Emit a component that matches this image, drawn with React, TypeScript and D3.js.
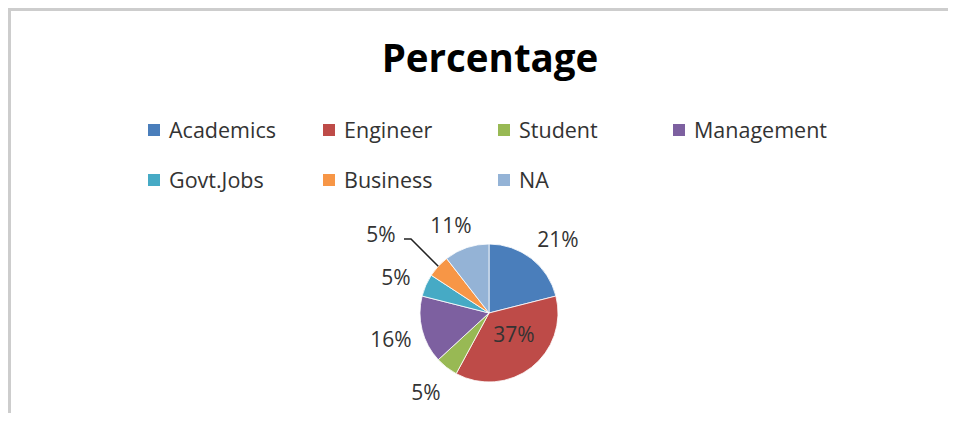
import React, {useEffect, useRef} from "react";
import * as d3 from "d3";

// respondents per category (shown as rounded percentages)
const categories = ["Academics", "Engineer", "Student", "Management", "Govt.Jobs", "Business", "NA"];
const counts = [4, 7, 1, 3, 1, 1, 2];
const colors = ["#4a7ebb", "#be4b48", "#98b954", "#7d60a0", "#46aac5", "#f79646", "#94b3d6"];

const W = 956;
const H = 421;
const font = "'Open Sans', 'Noto Sans', sans-serif";

function App() {
  const ref = useRef<SVGSVGElement>(null);

  useEffect(() => {
    const svg = d3.select(ref.current);
    svg.selectAll("*").remove();

    // frame
    svg.append("path")
      .attr("d", `M9.5,${H} V9.5 H${W}`)
      .attr("fill", "none")
      .attr("stroke", "#cdcdcd")
      .attr("stroke-width", 3);

    svg.append("text")
      .attr("x", 490).attr("y", 72)
      .attr("text-anchor", "middle")
      .attr("font-family", font)
      .attr("font-weight", "bold")
      .attr("font-size", 38.5)
      .attr("fill", "#000")
      .text("Percentage");

    // legend
    const colX = d3.scalePoint<number>().domain([0, 1, 2, 3]).range([148, 673]);
    const rowY = d3.scalePoint<number>().domain([0, 1]).range([130, 180]);
    const leg = svg.append("g").selectAll("g")
      .data(categories)
      .join("g")
      .attr("transform", (d, i) => `translate(${colX(i % 4)},${rowY(Math.floor(i / 4))})`);
    leg.append("rect")
      .attr("x", 0).attr("y", -6).attr("width", 12).attr("height", 12)
      .attr("fill", (d, i) => colors[i]);
    leg.append("text")
      .attr("x", 21).attr("y", 8)
      .attr("font-family", font)
      .attr("font-size", 21.5)
      .attr("fill", "#333")
      .text(d => d);

    // pie
    const cx = 489, cy = 313, r = 69;
    const total = d3.sum(counts);
    const pie = d3.pie<number>().sort(null).value(d => d)(counts);
    const arc = d3.arc<d3.PieArcDatum<number>>().innerRadius(0).outerRadius(r);
    const g = svg.append("g").attr("transform", `translate(${cx},${cy})`);
    g.selectAll("path")
      .data(pie)
      .join("path")
      .attr("d", arc)
      .attr("fill", (d, i) => colors[i])
      .attr("stroke", "#fff")
      .attr("stroke-width", 0.8);

    // label positions (offset from center, in px)
    const labelPos: [number, number][] = [
      [69, -73], [25, 22], [-63, 80], [-98, 27], [-93, -35], [-108, -78], [-38, -87],
    ];
    g.selectAll("text")
      .data(pie)
      .join("text")
      .attr("x", (d, i) => labelPos[i][0])
      .attr("y", (d, i) => labelPos[i][1])
      .attr("dy", "0.35em")
      .attr("text-anchor", "middle")
      .attr("font-family", font)
      .attr("font-size", 21)
      .attr("fill", "#333")
      .text(d => `${Math.round(d.value / total * 100)}%`);

    // leader line for the Business slice
    const bus = pie[5];
    const mid = (bus.startAngle + bus.endAngle) / 2;
    const end: [number, number] = [Math.sin(mid) * r, -Math.cos(mid) * r];
    g.append("path")
      .attr("d", d3.line()([[-85, -74], [-78, -74], end]))
      .attr("fill", "none")
      .attr("stroke", "#222")
      .attr("stroke-width", 1.5);
  }, []);

  return (
    <svg ref={ref} width={W} height={H} style={{display: "block", margin: -8, background: "#fff"}}/>
  );
}

export default App;
